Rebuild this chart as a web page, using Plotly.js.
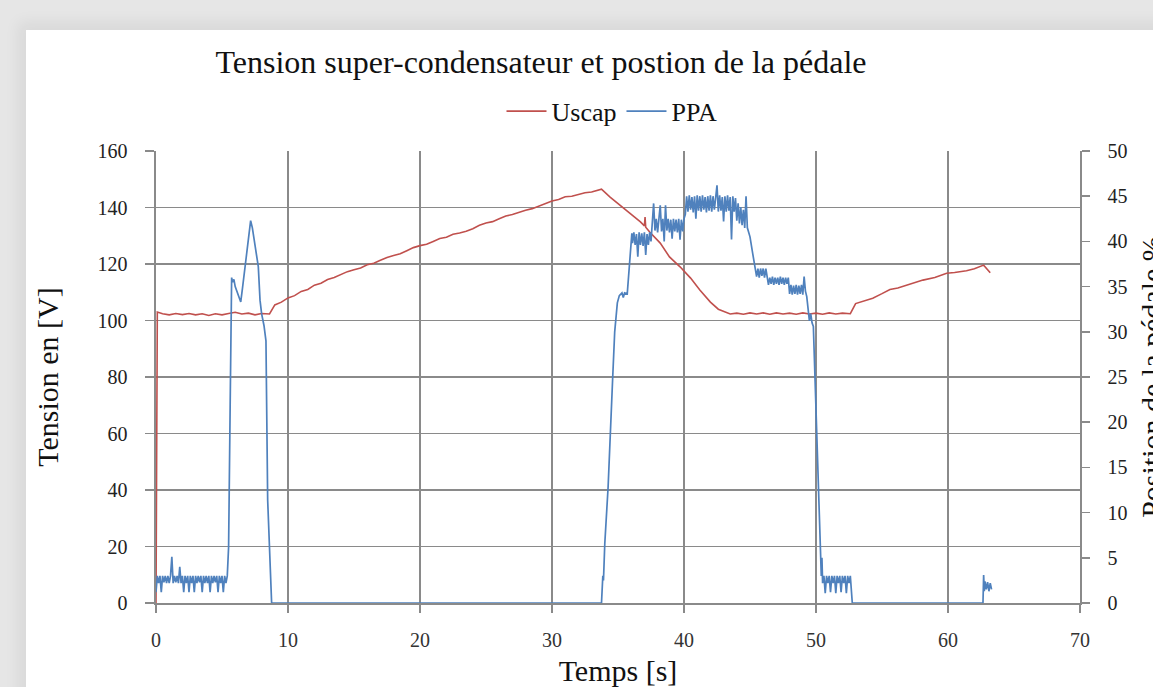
<!DOCTYPE html>
<html>
<head>
<meta charset="utf-8">
<script src="https://cdn.plot.ly/plotly-3.0.1.min.js"></script>
<style>
  html, body { margin:0; padding:0; width:1153px; height:687px; overflow:hidden; background:#e6e6e6; }
  #panel { position:absolute; left:26px; top:30px; width:1160px; height:700px; background:#ffffff;
           box-shadow: 0 0 14px 8px rgba(0,0,0,0.06); }
  #chart { position:absolute; left:0; top:0; width:1185px; height:687px; }
</style>
</head>
<body>
<div id="panel"></div>
<div id="chart"></div>
<script>
// ---- Data ----
const chartTitle = "Tension super-condensateur et postion de la pédale";
const seriesNames = ["Uscap", "PPA"];

const timeUscap = [0, 0.1, 0.5, 1, 1.5, 2, 2.5, 3, 3.5, 4, 4.5, 5, 5.5, 6, 6.5, 7, 7.5, 8, 8.6,
  9, 9.5, 10, 10.5, 11, 11.5, 12, 12.5, 13, 13.5, 14, 14.5, 15, 15.5, 16, 16.5, 17, 17.5, 18, 18.5,
  19, 19.5, 20, 20.5, 21, 21.5, 22, 22.5, 23, 23.5, 24, 24.5, 25, 25.5, 26, 26.5, 27, 27.5, 28, 28.5,
  29, 29.5, 30, 30.5, 31, 31.5, 32, 32.5, 33, 33.4, 33.75, 34.4, 35.15, 35.9, 36.7, 37.0, 37.05, 37.1,
  37.4, 38.2, 38.9, 39.7, 40.5, 41.2, 42, 42.6, 43.5, 44, 44.5, 45, 45.5, 46, 46.5, 47, 47.5, 48, 48.5,
  49, 49.5, 50, 50.5, 51, 51.5, 52, 52.6, 53, 53.5, 54.3, 55, 55.6, 56.2, 56.9, 57.5, 58.1, 59, 59.9,
  60.5, 61.4, 62, 62.7, 63.2];
const uscap = [0, 103, 102.4, 102, 102.5, 102.1, 102.5, 102, 102.4, 101.8, 102.4, 102, 102.5, 102.9, 102.3, 102.6, 102, 102.5, 102.3,
  105.5, 106.5, 108, 108.8, 110.3, 111, 112.5, 113.2, 114.5, 115.2, 116.3, 117.3, 118, 118.6, 119.7, 120.3, 121.3, 122.3, 123, 123.6,
  124.7, 125.8, 126.5, 127, 128, 129, 129.5, 130.5, 131, 131.6, 132.5, 133.7, 134.5, 135, 136, 137, 137.5, 138.3, 139, 139.6,
  140.5, 141.5, 142.3, 142.8, 143.8, 144, 144.6, 145.2, 145.5, 146, 146.5, 143.7, 140.9, 138, 134.9, 133.5, 136.6, 133,
  131.3, 127.4, 122.5, 119, 115, 110.8, 106.5, 104, 102.3, 102.6, 102.2, 102.7, 102.3, 102.7, 102.2, 102.7, 102.3, 102.6, 102.2,
  102.7, 102.3, 102.6, 102.2, 102.7, 102.3, 102.6, 102.4, 106, 106.8, 107.9, 109.5, 111, 111.5, 112.6, 113.5, 114.3, 115.2, 116.7,
  117, 117.6, 118.3, 119.6, 116.9];

const timePPA = [0.0, 0.1, 0.2, 0.3, 0.4, 0.5, 0.6, 0.7, 0.8, 0.9, 1.0, 1.1, 1.2, 1.3, 1.4, 1.5, 1.6, 1.7, 1.8, 1.9,
  2.0, 2.1, 2.2, 2.3, 2.4, 2.5, 2.6, 2.7, 2.8, 2.9, 3.0, 3.1, 3.2, 3.3, 3.4, 3.5, 3.6, 3.7, 3.8, 3.9,
  4.0, 4.1, 4.2, 4.3, 4.4, 4.5, 4.6, 4.7, 4.8, 4.9, 5.0, 5.1, 5.2, 5.3, 5.4,
  5.5, 5.62, 5.73, 5.8, 5.9, 6.0, 6.11, 6.25, 6.42, 6.55, 6.74, 6.99, 7.1, 7.17, 7.3, 7.45, 7.6, 7.75, 7.88,
  8.0, 8.18, 8.33, 8.46, 8.6, 8.69, 8.76,
  33.75, 33.8, 33.85, 33.9, 34.0, 34.25, 34.45, 34.6, 34.75, 34.95, 35.1, 35.3, 35.4, 35.5, 35.7, 35.9, 36.05,
  36.1, 36.2, 36.3, 36.4, 36.5, 36.6, 36.7, 36.8, 36.9, 37.0, 37.1, 37.2, 37.3, 37.4, 37.5,
  37.6, 37.7, 37.8, 37.9, 38.0, 38.1, 38.2, 38.3, 38.4, 38.5, 38.6, 38.7, 38.8, 38.9, 39.0, 39.1, 39.2,
  39.3, 39.4, 39.5, 39.6, 39.7, 39.8, 39.9, 40.0, 40.1,
  40.2, 40.3, 40.4, 40.5, 40.6, 40.7, 40.8, 40.9, 41.0, 41.1, 41.2, 41.3, 41.4, 41.5, 41.6, 41.7, 41.8,
  41.9, 42.0, 42.1, 42.2, 42.3, 42.4, 42.5, 42.6, 42.7, 42.8, 42.9, 43.0, 43.1, 43.2, 43.3, 43.4, 43.5,
  43.6, 43.7, 43.8, 43.9,
  44.0, 44.1, 44.2, 44.3, 44.4, 44.5, 44.6, 44.7, 44.8, 45.0, 45.2, 45.4,
  45.5, 45.6, 45.7, 45.8, 45.9, 46.0, 46.1, 46.2, 46.3,
  46.4, 46.5, 46.6, 46.7, 46.8, 46.9, 47.0, 47.1, 47.2, 47.3, 47.4, 47.5, 47.6, 47.7, 47.8, 47.9,
  48.0, 48.1, 48.2, 48.3, 48.4, 48.5, 48.6, 48.7, 48.8, 48.9, 49.0, 49.1, 49.2, 49.3, 49.45, 49.5,
  49.6, 49.7, 49.8, 50.04, 50.17, 50.3, 50.4, 50.45, 50.5, 50.6, 50.7, 50.8, 50.9, 51.0, 51.1, 51.2,
  51.3, 51.4, 51.5, 51.6, 51.7, 51.8, 51.9, 52.0, 52.1, 52.2, 52.3, 52.4, 52.5, 52.6, 52.7, 52.75,
  62.65, 62.7, 62.75, 62.8, 62.9, 63.0, 63.1, 63.2, 63.3];
const ppa = [1.2, 3.0, 2.2, 3.0, 1.2, 3.0, 2.3, 3.0, 2.2, 3.0, 2.2, 3.0, 5.1, 2.2, 3.0, 2.3, 3.0, 2.2, 4.0, 2.2,
  3.0, 1.2, 3.0, 2.2, 3.0, 1.2, 3.0, 2.2, 3.0, 1.2, 3.0, 2.2, 3.0, 2.3, 3.0, 1.2, 3.0, 2.2, 3.0, 2.2,
  3.0, 1.2, 3.0, 2.2, 3.0, 2.3, 3.0, 1.2, 3.0, 2.2, 3.0, 1.2, 3.0, 2.2, 3.0,
  6.2, 22, 36, 35.5, 35.8, 35, 34.5, 34, 33.3, 34.8, 37.2, 40.2, 41.5, 42.3, 41.5, 40, 38.5, 37.2, 33.5,
  32, 30.7, 29, 11.4, 6, 2.9, 0,
  0, 1.2, 3.0, 2.5, 6.6, 12.8, 18.8, 25, 30, 33.2, 34, 34.3, 33.8, 34.3, 34.2, 38, 40.9,
  39.8, 41, 39.6, 40.8, 38.3, 41, 39.6, 40.9, 39.5, 41, 38.5, 40.8, 39.6, 41, 40,
  42.4, 44.2, 41.2, 42.5, 41, 42.4, 44, 41.1, 42.5, 40, 44, 41.2, 42.5, 41, 42.4, 40.3, 42.5,
  41.1, 42.4, 41, 42.5, 40.2, 42.4, 41.1, 42.5, 43,
  45, 43.3, 45.1, 43.5, 44.9, 43.2, 45, 42.5, 45.1, 43.4, 45, 43.3, 45.1, 43.5, 44.9, 43.2, 45,
  43.4, 45.1, 43.3, 45, 43.5, 45, 46.2, 43.3, 45.1, 43.4, 44.9, 42.2, 45, 43.3, 45.1, 43.4, 44.9,
  40.2, 45, 43.3, 44.8,
  42.3, 44.2, 42, 43.8, 41.8, 43.5, 41.5, 45, 41.5, 40.5, 38.7, 37,
  36.1, 37, 36, 37, 36.2, 37, 36, 37, 36.1,
  35.2, 36, 35.3, 36.1, 35.2, 36, 35.3, 36, 35.2, 36.1, 35.3, 36, 35.2, 36, 35.3, 36,
  34.2, 35.2, 34.1, 35.1, 34.2, 35.2, 34.1, 35.1, 34.2, 35.2, 34.1, 36.1, 34.5, 33.9, 32, 31.2,
  32, 31, 30.6, 18.8, 12.2, 5.5, 3.0, 5.0, 2.2, 3.0, 1.1, 3.0, 2.2, 3.0, 1.2, 3.0,
  2.2, 3.0, 1.1, 3.0, 2.2, 3.0, 1.2, 3.0, 2.2, 3.0, 1.1, 3.0, 2.2, 3.0, 1.2, 0,
  0, 3.1, 1.3, 2.4, 1.5, 2.3, 1.3, 2.2, 1.5];
// PPA is zero between the two pedal pulses; these gaps are filled by connecting the points above.

const xTickVals = [0, 10, 20, 30, 40, 50, 60, 70];
const yLeftTicks = [0, 20, 40, 60, 80, 100, 120, 140, 160];
const yRightTicks = [0, 5, 10, 15, 20, 25, 30, 35, 40, 45, 50];

// ---- Styling ----
const serif = "'Liberation Serif', 'Times New Roman', 'DejaVu Serif', serif";
const gridCol = "#8a8a8a";
const red = "#C0504D";
const blue = "#4F81BD";
const W = 1185; // figure is slightly wider than the window so the right axis title is cut like the reference

const traces = [
  { x: timeUscap, y: uscap, name: seriesNames[0], type: "scatter", mode: "lines",
    line: { color: red, width: 1.6 }, yaxis: "y" },
  { x: timePPA, y: ppa, name: seriesNames[1], type: "scatter", mode: "lines",
    line: { color: blue, width: 1.7 }, yaxis: "y2" }
];

const layout = {
  width: W, height: 687,
  paper_bgcolor: "rgba(0,0,0,0)",
  plot_bgcolor: "rgba(0,0,0,0)",
  margin: { l: 156, r: W - 1080, t: 151, b: 84 },
  font: { family: serif, size: 20, color: "#222" },
  showlegend: true,
  title: { text: chartTitle, font: { family: serif, size: 32, color: "#111" },
           x: 541 / W, xref: "container", xanchor: "center",
           y: 1 - 62/687, yref: "container", yanchor: "middle" },
  legend: { orientation: "h", x: 0.4935, xanchor: "center", y: 1.088, yanchor: "middle",
            font: { family: serif, size: 26, color: "#111" }, bgcolor: "rgba(0,0,0,0)",
            itemwidth: 40, traceorder: "normal" },
  xaxis: {
    range: [0, 70], tickvals: xTickVals, ticktext: xTickVals.map(String),
    showgrid: true, gridcolor: gridCol, gridwidth: 1.6,
    showline: true, linecolor: gridCol, linewidth: 1.6,
    ticks: "outside", ticklen: 8, tickcolor: gridCol, tickwidth: 1.5,
    ticklabelstandoff: 10,
    zeroline: false,
    tickfont: { family: serif, size: 20, color: "#333" },
    title: { text: "Temps [s]", font: { family: serif, size: 30, color: "#111" }, standoff: 12 }
  },
  yaxis: {
    range: [0, 160], tickvals: yLeftTicks, ticktext: yLeftTicks.map(String),
    showgrid: true, gridcolor: gridCol, gridwidth: 1.6,
    showline: true, linecolor: gridCol, linewidth: 1.6,
    ticks: "outside", ticklen: 9, tickcolor: gridCol, tickwidth: 1.5,
    ticklabelstandoff: 14,
    zeroline: false,
    tickfont: { family: serif, size: 20, color: "#222" },
    title: { text: "Tension en [V]", font: { family: serif, size: 30, color: "#111" }, standoff: 30 }
  },
  yaxis2: {
    range: [0, 50], tickvals: yRightTicks, ticktext: yRightTicks.map(String),
    overlaying: "y", side: "right", showgrid: false,
    showline: true, linecolor: gridCol, linewidth: 1.6,
    ticks: "outside", ticklen: 8, tickcolor: gridCol, tickwidth: 1.5,
    ticklabelstandoff: 14,
    zeroline: false,
    tickfont: { family: serif, size: 20, color: "#222" },
    title: { text: "Position de la pédale %", font: { family: serif, size: 30, color: "#111" }, standoff: 14 }
  }
};

Plotly.newPlot("chart", traces, layout, { staticPlot: true, displayModeBar: false });
</script>
</body>
</html>
